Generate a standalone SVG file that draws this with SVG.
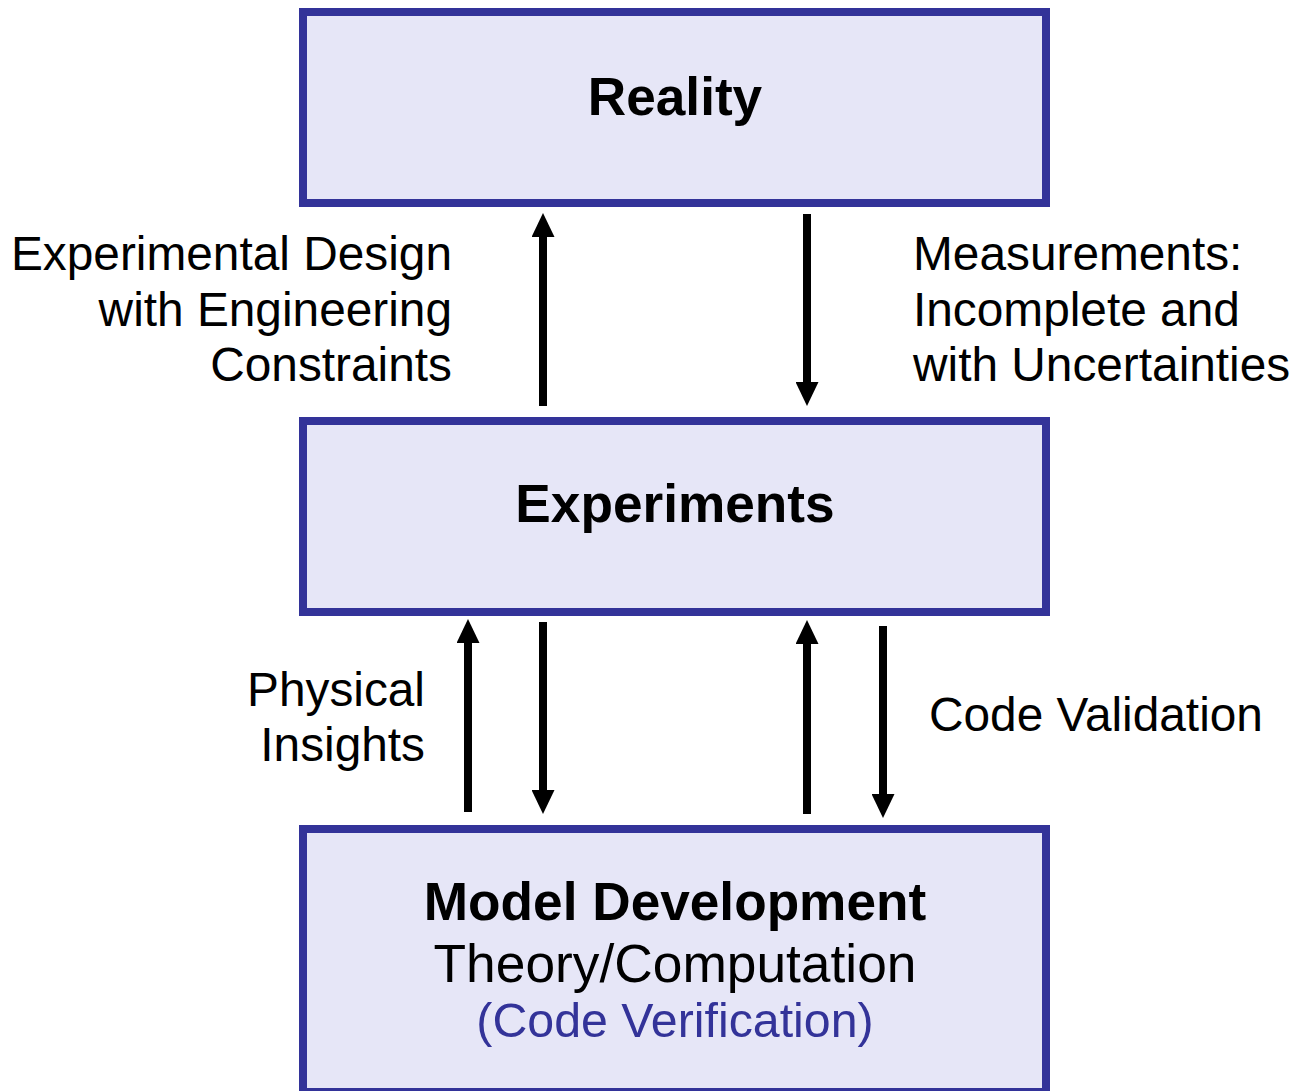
<svg xmlns="http://www.w3.org/2000/svg" width="1295" height="1091" viewBox="0 0 1295 1091">
<defs>
<style>
.box{fill:#E6E6F7;stroke:#333399;stroke-width:8}
.t{font-family:"Liberation Sans",Arial,sans-serif;fill:#000}
.b{font-weight:bold;font-size:53.2px;text-anchor:middle}
.r{font-size:47.8px}
.shaft{stroke:#000;stroke-width:8;fill:none}
</style>
<marker id="ah" viewBox="0 0 24 23" refX="0" refY="11.5" markerWidth="24" markerHeight="23" markerUnits="userSpaceOnUse" orient="auto">
<path d="M0,0 L24,11.5 L0,23 Z" fill="#000"/>
</marker>
</defs>
<rect width="1295" height="1091" fill="#fff"/>
<g id="reality">
<rect class="box" x="303" y="12" width="743" height="191"/>
<text class="t b" x="675" y="115">Reality</text>
</g>
<g id="experiments">
<rect class="box" x="303" y="421" width="743" height="191"/>
<text class="t b" x="675" y="522">Experiments</text>
</g>
<g id="model">
<rect class="box" x="303" y="829" width="743" height="263"/>
<text class="t b" x="675" y="920">Model Development</text>
<text class="t" x="675" y="982" font-size="53.3" text-anchor="middle">Theory/Computation</text>
<text class="t" x="675" y="1037" font-size="48.3" text-anchor="middle" style="fill:#333399">(Code Verification)</text>
</g>
<g id="connectors">
<line class="shaft" x1="543" y1="406" x2="543" y2="237" marker-end="url(#ah)"/>
<line class="shaft" x1="807" y1="214" x2="807" y2="382" marker-end="url(#ah)"/>
<line class="shaft" x1="468" y1="812" x2="468" y2="643" marker-end="url(#ah)"/>
<line class="shaft" x1="543" y1="622" x2="543" y2="790" marker-end="url(#ah)"/>
<line class="shaft" x1="807" y1="814" x2="807" y2="644" marker-end="url(#ah)"/>
<line class="shaft" x1="883" y1="626" x2="883" y2="794" marker-end="url(#ah)"/>
</g>
<g id="labels">
<text class="t r" x="452" y="270" text-anchor="end">Experimental Design</text>
<text class="t r" x="452" y="326" text-anchor="end">with Engineering</text>
<text class="t r" x="452" y="381" text-anchor="end">Constraints</text>
<text class="t r" x="913" y="270">Measurements:</text>
<text class="t r" x="913" y="326">Incomplete and</text>
<text class="t r" x="913" y="381">with Uncertainties</text>
<text class="t r" x="425" y="706" text-anchor="end">Physical</text>
<text class="t r" x="425" y="761" text-anchor="end">Insights</text>
<text class="t r" x="929" y="731">Code Validation</text>
</g>
</svg>
